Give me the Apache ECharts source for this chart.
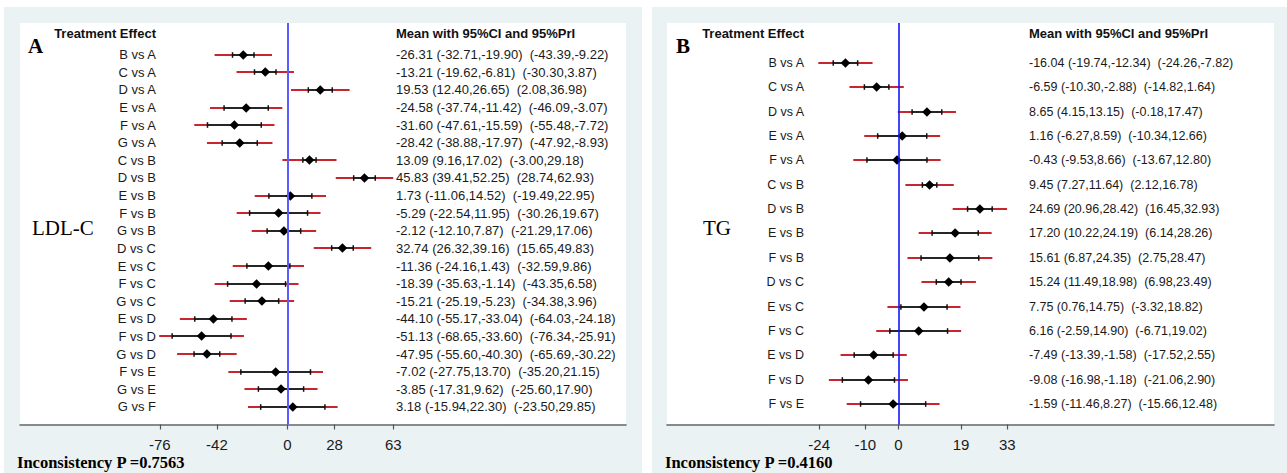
<!DOCTYPE html>
<html>
<head>
<meta charset="utf-8">
<script src="https://cdn.jsdelivr.net/npm/echarts@6/dist/echarts.min.js"></script>
<style>
html,body{margin:0;padding:0;background:#ffffff;}
#chart{width:1287px;height:473px;}
</style>
</head>
<body>
<div id="chart"></div>
<script>
// ---------------- DATA ----------------
// Panel A: LDL-C
const ldlCategories = ['B vs A','C vs A','D vs A','E vs A','F vs A','G vs A','C vs B','D vs B','E vs B','F vs B','G vs B','D vs C','E vs C','F vs C','G vs C','E vs D','F vs D','G vs D','F vs E','G vs E','G vs F'];
const ldlMean   = [-26.31,-13.21,19.53,-24.58,-31.60,-28.42,13.09,45.83,1.73,-5.29,-2.12,32.74,-11.36,-18.39,-15.21,-44.10,-51.13,-47.95,-7.02,-3.85,3.18];
const ldlCiLow  = [-32.71,-19.62,12.40,-37.74,-47.61,-38.88,9.16,39.41,-11.06,-22.54,-12.10,26.32,-24.16,-35.63,-25.19,-55.17,-68.65,-55.60,-27.75,-17.31,-15.94];
const ldlCiHigh = [-19.90,-6.81,26.65,-11.42,-15.59,-17.97,17.02,52.25,14.52,11.95,7.87,39.16,1.43,-1.14,-5.23,-33.04,-33.60,-40.30,13.70,9.62,22.30];
const ldlPrLow  = [-43.39,-30.30,2.08,-46.09,-55.48,-47.92,-3.00,28.74,-19.49,-30.26,-21.29,15.65,-32.59,-43.35,-34.38,-64.03,-76.34,-65.69,-35.20,-25.60,-23.50];
const ldlPrHigh = [-9.22,3.87,36.98,-3.07,-7.72,-8.93,29.18,62.93,22.95,19.67,17.06,49.83,9.86,6.58,3.96,-24.18,-25.91,-30.22,21.15,17.90,29.85];
const ldlTicks  = [-76,-42,0,28,63];
const ldlInconsistency = '0.7563';

// Panel B: TG
const tgCategories = ['B vs A','C vs A','D vs A','E vs A','F vs A','C vs B','D vs B','E vs B','F vs B','D vs C','E vs C','F vs C','E vs D','F vs D','F vs E'];
const tgMean   = [-16.04,-6.59,8.65,1.16,-0.43,9.45,24.69,17.20,15.61,15.24,7.75,6.16,-7.49,-9.08,-1.59];
const tgCiLow  = [-19.74,-10.30,4.15,-6.27,-9.53,7.27,20.96,10.22,6.87,11.49,0.76,-2.59,-13.39,-16.98,-11.46];
const tgCiHigh = [-12.34,-2.88,13.15,8.59,8.66,11.64,28.42,24.19,24.35,18.98,14.75,14.90,-1.58,-1.18,8.27];
const tgPrLow  = [-24.26,-14.82,-0.18,-10.34,-13.67,2.12,16.45,6.14,2.75,6.98,-3.32,-6.71,-17.52,-21.06,-15.66];
const tgPrHigh = [-7.82,1.64,17.47,12.66,12.80,16.78,32.93,28.26,28.47,23.49,18.82,19.02,2.55,2.90,12.48];
const tgTicks  = [-24,-10,0,19,33];
const tgInconsistency = '0.4160';

// ---------------- LAYOUT / STYLE ----------------
const SANS = "'Liberation Sans', Arial, Helvetica, sans-serif";
const SERIF = "'Liberation Serif', 'Times New Roman', serif";
const RED = '#c8262e';
const PANEL_BG = '#eaf2f3';

const panels = [
  {
    letter: 'A', outcome: 'LDL-C',
    cats: ldlCategories, mean: ldlMean, ciL: ldlCiLow, ciH: ldlCiHigh, prL: ldlPrLow, prH: ldlPrHigh,
    ticks: ldlTicks, incons: ldlInconsistency,
    outer: {x: 4, y: 7, w: 638, h: 466},
    grid: {left: 20, top: 23, width: 606, height: 401.5},
    xMin: -159.2, xMax: 201.5, yMin: -1.8, yMax: 21.0,
    labelRight: 156, valueLeft: 396, fontSize: 13,
    zeroColor: '#5c5cff', zeroWidth: 2,
    letterPos: [28, 46], outcomePos: [32, 228], inconsPos: [17, 462]
  },
  {
    letter: 'B', outcome: 'TG',
    cats: tgCategories, mean: tgMean, ciL: tgCiLow, ciH: tgCiHigh, prL: tgPrLow, prH: tgPrHigh,
    ticks: tgTicks, incons: tgInconsistency,
    outer: {x: 652, y: 7, w: 635, h: 466},
    grid: {left: 667, top: 23, width: 607, height: 401.5},
    xMin: -70.1, xMax: 113.8, yMin: -1.64, yMax: 14.84,
    labelRight: 804, valueLeft: 1029, fontSize: 12.5,
    zeroColor: '#1414ff', zeroWidth: 1.6,
    letterPos: [676, 46], outcomePos: [703, 228], inconsPos: [665, 462]
  }
];

function fmt(v){ return v.toFixed(2); }

const option = {
  animation: false,
  backgroundColor: '#ffffff',
  grid: [], xAxis: [], yAxis: [], series: [], graphic: []
};

panels.forEach((p, k) => {
  option.graphic.push({
    type: 'rect', z: -10, silent: true,
    shape: {x: p.outer.x, y: p.outer.y, width: p.outer.w, height: p.outer.h},
    style: {fill: PANEL_BG}
  });
  option.grid.push({
    left: p.grid.left, top: p.grid.top, width: p.grid.width, height: p.grid.height,
    show: true, backgroundColor: '#ffffff', borderWidth: 0, containLabel: false
  });
  option.xAxis.push({
    gridIndex: k, type: 'value', min: p.xMin, max: p.xMax,
    splitLine: {show: false},
    axisLine: {show: true, onZero: false, lineStyle: {color: '#666666', width: 1.6}},
    axisTick: {show: true, length: 5, customValues: p.ticks, lineStyle: {color: '#555555', width: 1.2}},
    axisLabel: {show: true, customValues: p.ticks, margin: 12, fontSize: 15, color: '#1a1a1a', fontFamily: SANS,
      formatter: v => String(v)}
  });
  option.yAxis.push({
    gridIndex: k, type: 'value', inverse: true, min: p.yMin, max: p.yMax, show: false,
    splitLine: {show: false}
  });

  const rows = p.cats.map((c, i) => [i, p.mean[i], p.ciL[i], p.ciH[i], p.prL[i], p.prH[i]]);

  // interval marks
  option.series.push({
    type: 'custom', xAxisIndex: k, yAxisIndex: k, z: 3,
    encode: {x: [1, 2, 3, 4, 5], y: 0},
    data: rows,
    renderItem: (params, api) => {
      const i = api.value(0);
      const m = api.coord([api.value(1), i]);
      const cl = api.coord([api.value(2), i]);
      const ch = api.coord([api.value(3), i]);
      const pl = api.coord([api.value(4), i]);
      const ph = api.coord([api.value(5), i]);
      const y = Math.round(m[1]);
      const d = 4.8, cap = 2.8;
      return {
        type: 'group',
        children: [
          {type: 'line', shape: {x1: pl[0], y1: y, x2: ph[0], y2: y}, style: {stroke: RED, lineWidth: 2}},
          {type: 'line', shape: {x1: cl[0], y1: y, x2: ch[0], y2: y}, style: {stroke: '#262626', lineWidth: 2}},
          {type: 'line', shape: {x1: cl[0], y1: y - cap, x2: cl[0], y2: y + cap}, style: {stroke: '#111111', lineWidth: 1.5}},
          {type: 'line', shape: {x1: ch[0], y1: y - cap, x2: ch[0], y2: y + cap}, style: {stroke: '#111111', lineWidth: 1.5}},
          {type: 'polygon', shape: {points: [[m[0], y - d], [m[0] + d, y], [m[0], y + d], [m[0] - d, y]]}, style: {fill: '#000000'}}
        ]
      };
    },
    markLine: {
      silent: true, symbol: ['none', 'none'], label: {show: false},
      lineStyle: {color: p.zeroColor, width: p.zeroWidth, type: 'solid'},
      data: [{xAxis: 0}]
    }
  });

  // text columns
  option.series.push({
    type: 'custom', xAxisIndex: k, yAxisIndex: k, z: 4, silent: true,
    encode: {x: 1, y: 0},
    data: rows,
    renderItem: (params, api) => {
      const i = api.value(0);
      const y = api.coord([0, i])[1];
      const j = params.dataIndex;
      const txt = fmt(p.mean[j]) + ' (' + fmt(p.ciL[j]) + ',' + fmt(p.ciH[j]) + ')\u00a0 (' + fmt(p.prL[j]) + ',' + fmt(p.prH[j]) + ')';
      return {
        type: 'group',
        children: [
          {type: 'text', x: p.labelRight, y: y, style: {text: p.cats[j], fill: '#1a1a1a', fontSize: p.fontSize, fontFamily: SANS, textAlign: 'right', textVerticalAlign: 'middle'}},
          {type: 'text', x: p.valueLeft, y: y, style: {text: txt, fill: '#1a1a1a', fontSize: p.fontSize, fontFamily: SANS, textAlign: 'left', textVerticalAlign: 'middle'}}
        ]
      };
    }
  });

  // headers and annotations
  option.graphic.push(
    {type: 'text', z: 10, x: p.labelRight, y: 33, style: {text: 'Treatment Effect', fill: '#111111', fontSize: 13, fontWeight: 'bold', fontFamily: SANS, textAlign: 'right', textVerticalAlign: 'middle'}},
    {type: 'text', z: 10, x: p.valueLeft, y: 33, style: {text: 'Mean with 95%CI and 95%PrI', fill: '#111111', fontSize: 13, fontWeight: 'bold', fontFamily: SANS, textAlign: 'left', textVerticalAlign: 'middle'}},
    {type: 'text', z: 10, x: p.letterPos[0], y: p.letterPos[1], style: {text: p.letter, fill: '#000000', fontSize: 21, fontWeight: 'bold', fontFamily: SERIF, textAlign: 'left', textVerticalAlign: 'middle'}},
    {type: 'text', z: 10, x: p.outcomePos[0], y: p.outcomePos[1], style: {text: p.outcome, fill: '#000000', fontSize: 21, fontFamily: SERIF, textAlign: 'left', textVerticalAlign: 'middle'}},
    {type: 'text', z: 10, x: p.inconsPos[0], y: p.inconsPos[1], style: {text: 'Inconsistency P =' + p.incons, fill: '#000000', fontSize: 16.5, fontWeight: 'bold', fontFamily: SERIF, textAlign: 'left', textVerticalAlign: 'middle'}}
  );
});

const chart = echarts.init(document.getElementById('chart'), null, {renderer: 'svg', width: 1287, height: 473});
chart.setOption(option);
</script>
</body>
</html>
